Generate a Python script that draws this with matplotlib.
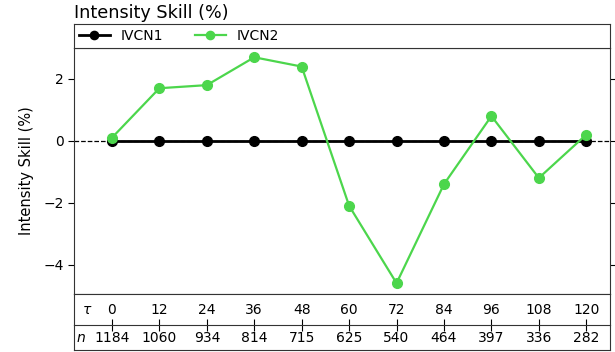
import matplotlib
matplotlib.use("Agg")
import matplotlib.pyplot as plt

# lead times (h) and sample sizes
tau = [0, 12, 24, 36, 48, 60, 72, 84, 96, 108, 120]
n_cases = [1184, 1060, 934, 814, 715, 625, 540, 464, 397, 336, 282]

# intensity skill relative to IVCN1 (%)
ivcn1 = [0, 0, 0, 0, 0, 0, 0, 0, 0, 0, 0]
ivcn2 = [0.1, 1.7, 1.8, 2.7, 2.4, -2.1, -4.6, -1.4, 0.8, -1.2, 0.2]

green = "#4cd64c"
edge = "#333333"
W, H = 615, 352

fig = plt.figure(figsize=(6.15, 3.52), dpi=100)

def box(x0, y0, x1, y1):
    # pixel box (top-left origin) -> figure fraction rect
    return [x0 / W, 1 - y1 / H, (x1 - x0) / W, (y1 - y0) / H]

ax = fig.add_axes(box(74, 48, 610, 294))
ax_leg = fig.add_axes(box(74, 24, 610, 48))
ax_tau = fig.add_axes(box(74, 294, 610, 325))
ax_n = fig.add_axes(box(74, 325, 610, 350))

xlim = (-9.6, 126)

ax.axhline(0, color="black", ls="--", lw=0.9, zorder=1)
l1, = ax.plot(tau, ivcn1, color="black", lw=2, marker="o", ms=7, label="IVCN1", zorder=2)
l2, = ax.plot(tau, ivcn2, color=green, lw=1.6, marker="o", ms=7, label="IVCN2", zorder=3)
ax.set_xlim(xlim)
ax.set_ylim(-4.95, 3.0)
ax.set_yticks([-4, -2, 0, 2])
ax.set_xticks([])
ax.tick_params(axis="y", labelsize=10, right=True, direction="out", length=4)
ax.set_ylabel("Intensity Skill (%)", fontsize=10.5)
ax.yaxis.set_label_coords(-0.074, 0.5)
for s in ax.spines.values():
    s.set_color(edge)

# legend strip on top
ax_leg.set_xticks([])
ax_leg.set_yticks([])
for s in ax_leg.spines.values():
    s.set_color(edge)
ax_leg.legend(handles=[l1, l2], loc="center left", ncol=2, frameon=False,
              fontsize=10, handlelength=2.2, handletextpad=0.8,
              columnspacing=2.3, borderpad=0.36, borderaxespad=0, markerscale=0.85)
ax_leg.set_title("Intensity Skill (%)", loc="left", fontsize=12.7, pad=4)

# lead time row
ax_tau.set_xlim(xlim)
ax_tau.set_ylim(0, 1)
ax_tau.set_yticks([])
ax_tau.set_xticks(tau)
ax_tau.tick_params(axis="x", direction="inout", length=8, labelbottom=False, color="black")
for s in ax_tau.spines.values():
    s.set_color(edge)
for t in tau:
    ax_tau.text(t, 0.5, str(t), ha="center", va="center", fontsize=10)
ax_tau.text(0.015, 0.5, r"$\tau$", transform=ax_tau.transAxes, ha="left", va="center", fontsize=10)

# sample size row
ax_n.set_xlim(xlim)
ax_n.set_ylim(0, 1)
ax_n.set_xticks([])
ax_n.set_yticks([])
ax_n.patch.set_visible(False)
for s in ax_n.spines.values():
    s.set_color(edge)
ax_n.spines["top"].set_visible(False)
for t, v in zip(tau, n_cases):
    ax_n.text(t, 0.48, str(v), ha="center", va="center", fontsize=10)
ax_n.text(0.004, 0.48, "n", style="italic", transform=ax_n.transAxes, ha="left", va="center", fontsize=10)

fig.savefig("out.png", dpi=100)
